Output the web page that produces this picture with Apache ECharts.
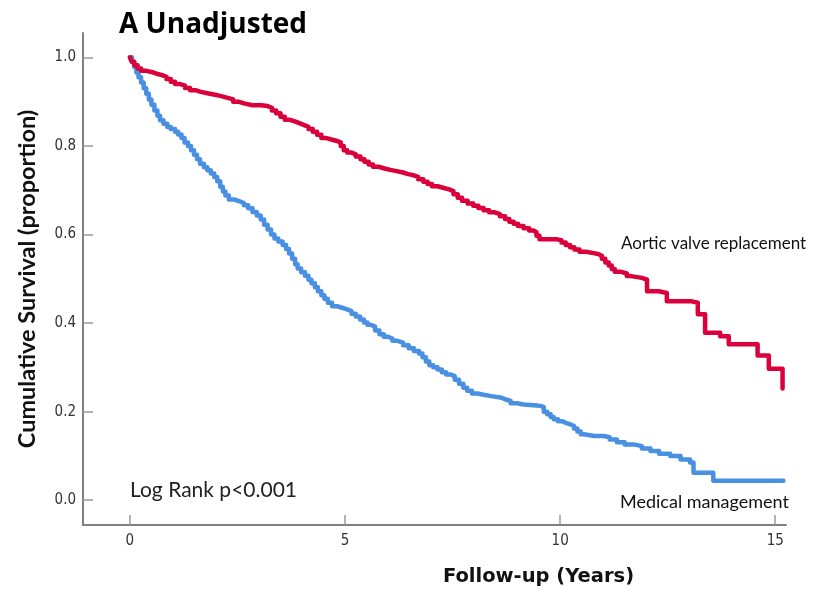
<!DOCTYPE html>
<html>
<head>
<meta charset="utf-8">
<script src="https://cdn.jsdelivr.net/npm/echarts@6/dist/echarts.min.js"></script>
<style>
  html, body { margin: 0; padding: 0; background: #fff; }
  #chart { width: 814px; height: 592px; }
</style>
</head>
<body>
<div id="chart"></div>
<script>
// Kaplan–Meier survival estimates: [follow-up years, cumulative survival]
const avrSurvival = [
  [0, 1.0], [0.04, 0.99], [0.1, 0.982], [0.18, 0.975], [0.26, 0.97], [0.36, 0.967],
  [0.5, 0.963], [0.62, 0.96], [0.75, 0.956], [0.85, 0.951], [0.95, 0.945], [1.05, 0.94],
  [1.15, 0.936], [1.28, 0.931], [1.4, 0.926], [1.52, 0.922], [1.65, 0.919], [1.8, 0.916],
  [1.95, 0.913], [2.1, 0.909], [2.25, 0.905], [2.4, 0.9], [2.52, 0.896], [2.65, 0.892],
  [2.85, 0.892], [3.05, 0.89], [3.2, 0.886], [3.3, 0.88], [3.4, 0.874], [3.5, 0.866],
  [3.6, 0.859], [3.72, 0.855], [3.85, 0.851], [3.95, 0.847], [4.05, 0.843], [4.15, 0.838],
  [4.25, 0.832], [4.35, 0.825], [4.45, 0.818], [4.55, 0.814], [4.7, 0.811], [4.82, 0.808],
  [4.9, 0.8], [4.97, 0.79], [5.05, 0.785], [5.15, 0.781], [5.25, 0.776], [5.36, 0.77],
  [5.45, 0.764], [5.55, 0.758], [5.65, 0.753], [5.78, 0.749], [5.92, 0.746], [6.05, 0.743],
  [6.2, 0.74], [6.35, 0.737], [6.45, 0.734], [6.58, 0.73], [6.7, 0.725], [6.82, 0.719],
  [6.92, 0.714], [7.02, 0.709], [7.15, 0.705], [7.3, 0.702], [7.42, 0.698], [7.52, 0.691],
  [7.62, 0.683], [7.72, 0.676], [7.85, 0.67], [7.98, 0.665], [8.1, 0.66], [8.22, 0.655],
  [8.35, 0.65], [8.48, 0.646], [8.6, 0.641], [8.72, 0.635], [8.82, 0.629], [8.92, 0.624],
  [9.02, 0.619], [9.15, 0.614], [9.28, 0.609], [9.38, 0.605], [9.45, 0.597], [9.52, 0.589],
  [9.7, 0.589], [9.93, 0.587], [10.03, 0.582], [10.13, 0.576], [10.23, 0.571], [10.33, 0.566],
  [10.45, 0.561], [10.6, 0.558], [10.78, 0.556], [10.88, 0.552], [10.97, 0.545], [11.05, 0.537],
  [11.13, 0.53], [11.2, 0.522], [11.27, 0.516], [11.4, 0.512], [11.55, 0.506], [11.65, 0.502],
  [11.9, 0.498], [12.02, 0.472], [12.29, 0.468], [12.48, 0.449], [13.06, 0.446], [13.2, 0.42],
  [13.37, 0.378], [13.72, 0.37], [13.92, 0.352], [14.59, 0.327], [14.85, 0.297], [15.17, 0.252]
];

const medicalSurvival = [
  [0, 1.0], [0.05, 0.99], [0.1, 0.978], [0.15, 0.966], [0.2, 0.955], [0.26, 0.943],
  [0.32, 0.93], [0.38, 0.918], [0.44, 0.905], [0.5, 0.893], [0.57, 0.88], [0.64, 0.868],
  [0.7, 0.858], [0.78, 0.85], [0.87, 0.843], [0.95, 0.838], [1.05, 0.832], [1.12, 0.826],
  [1.2, 0.818], [1.27, 0.808], [1.35, 0.8], [1.42, 0.79], [1.49, 0.78], [1.56, 0.77],
  [1.63, 0.76], [1.72, 0.752], [1.8, 0.745], [1.88, 0.738], [1.96, 0.73], [2.03, 0.72],
  [2.1, 0.708], [2.16, 0.697], [2.22, 0.688], [2.3, 0.679], [2.42, 0.675], [2.55, 0.671],
  [2.65, 0.666], [2.75, 0.659], [2.85, 0.651], [2.95, 0.643], [3.04, 0.634], [3.12, 0.622],
  [3.2, 0.611], [3.28, 0.6], [3.36, 0.591], [3.45, 0.584], [3.55, 0.576], [3.63, 0.567],
  [3.7, 0.557], [3.77, 0.545], [3.84, 0.533], [3.9, 0.523], [3.98, 0.515], [4.07, 0.507],
  [4.15, 0.498], [4.22, 0.49], [4.3, 0.481], [4.37, 0.472], [4.45, 0.463], [4.52, 0.455],
  [4.6, 0.446], [4.7, 0.438], [4.82, 0.434], [4.95, 0.431], [5.05, 0.427], [5.15, 0.421],
  [5.25, 0.415], [5.35, 0.408], [5.44, 0.401], [5.52, 0.396], [5.6, 0.392], [5.7, 0.383],
  [5.8, 0.375], [5.9, 0.369], [6.0, 0.365], [6.1, 0.36], [6.22, 0.356], [6.35, 0.35],
  [6.48, 0.343], [6.6, 0.337], [6.72, 0.331], [6.8, 0.323], [6.88, 0.313], [6.96, 0.305],
  [7.05, 0.3], [7.15, 0.295], [7.25, 0.289], [7.35, 0.284], [7.45, 0.28], [7.55, 0.272],
  [7.65, 0.263], [7.75, 0.254], [7.84, 0.247], [7.95, 0.241], [8.08, 0.238], [8.22, 0.235],
  [8.4, 0.232], [8.61, 0.228], [8.72, 0.224], [8.85, 0.219], [9.0, 0.216], [9.15, 0.215],
  [9.3, 0.214], [9.45, 0.213], [9.54, 0.21], [9.62, 0.2], [9.7, 0.194], [9.78, 0.188],
  [9.85, 0.183], [9.95, 0.178], [10.05, 0.174], [10.15, 0.171], [10.24, 0.168], [10.32, 0.162],
  [10.4, 0.155], [10.48, 0.149], [10.55, 0.145], [10.8, 0.145], [11.01, 0.142], [11.15, 0.137],
  [11.32, 0.131], [11.5, 0.126], [11.71, 0.122], [11.9, 0.117], [12.1, 0.111], [12.3, 0.105],
  [12.56, 0.1], [12.8, 0.092], [13.02, 0.085], [13.1, 0.062], [13.56, 0.044], [15.19, 0.044]
];

const seriesNames = ['Medical management', 'Aortic valve replacement'];
const xTickValues = [0, 5, 10, 15];
const yTickValues = [0.0, 0.2, 0.4, 0.6, 0.8, 1.0];

const tickFont = '"DejaVu Sans Condensed", "Liberation Sans Narrow", "DejaVu Sans", sans-serif';
const textFont = 'Lato, "Open Sans", sans-serif';

const chart = echarts.init(document.getElementById('chart'), null, { renderer: 'canvas' });

chart.setOption({
  animation: false,
  backgroundColor: '#ffffff',
  title: {
    text: 'A Unadjusted',
    left: 114,
    top: 6,
    textStyle: { fontFamily: '"Open Sans", sans-serif', fontWeight: 'bold', fontSize: 28, color: '#000' }
  },
  grid: { left: 83, right: 28, top: 33, bottom: 66, containLabel: false },
  xAxis: {
    type: 'value',
    min: -1.09,
    max: 15.25,
    name: 'Follow-up (Years)',
    nameLocation: 'middle',
    nameGap: 42,
    nameTextStyle: {
      fontFamily: '"DejaVu Sans", sans-serif', fontWeight: 'bold', fontSize: 19.5, color: '#111',
      padding: [0, 0, 0, 208]
    },
    axisLine: { show: true, onZero: false, lineStyle: { color: '#808080', width: 2 } },
    axisTick: {
      show: true, inside: true, length: 10, lineStyle: { color: '#9a9a9a', width: 1.5 },
      customValues: xTickValues
    },
    axisLabel: {
      customValues: xTickValues,
      formatter: v => String(v),
      margin: 9, fontFamily: tickFont, fontSize: 15, color: '#333'
    },
    splitLine: { show: false }
  },
  yAxis: {
    type: 'value',
    min: -0.056,
    max: 1.055,
    name: 'Cumulative Survival (proportion)',
    nameLocation: 'middle',
    nameGap: 44,
    nameTextStyle: { fontFamily: textFont, fontWeight: 'bold', fontSize: 23.5, color: '#111' },
    axisLine: { show: true, onZero: false, lineStyle: { color: '#808080', width: 2 } },
    axisTick: {
      show: true, inside: true, length: 10, lineStyle: { color: '#9a9a9a', width: 1.5 },
      customValues: yTickValues
    },
    axisLabel: {
      customValues: yTickValues,
      formatter: v => v.toFixed(1),
      margin: 7, fontFamily: tickFont, fontSize: 15, color: '#333'
    },
    splitLine: { show: false }
  },
  series: [
    {
      name: seriesNames[0],
      type: 'line',
      step: 'end',
      data: medicalSurvival,
      showSymbol: false,
      lineStyle: { color: '#4a90e2', width: 4.5, cap: 'round', join: 'round' },
      z: 2
    },
    {
      name: seriesNames[1],
      type: 'line',
      step: 'end',
      data: avrSurvival,
      showSymbol: false,
      lineStyle: { color: '#d9003b', width: 4.5, cap: 'round', join: 'round' },
      z: 3
    }
  ],
  graphic: [
    {
      type: 'text', left: 621, top: 235,
      style: { text: seriesNames[1], fontFamily: textFont, fontSize: 17, fill: '#111' }
    },
    {
      type: 'text', left: 620, top: 493,
      style: { text: seriesNames[0], fontFamily: textFont, fontSize: 18, fill: '#111' }
    },
    {
      type: 'text', left: 130, top: 480,
      style: { text: 'Log Rank p<0.001', fontFamily: textFont, fontSize: 21, fill: '#222' }
    }
  ]
});
</script>
</body>
</html>
